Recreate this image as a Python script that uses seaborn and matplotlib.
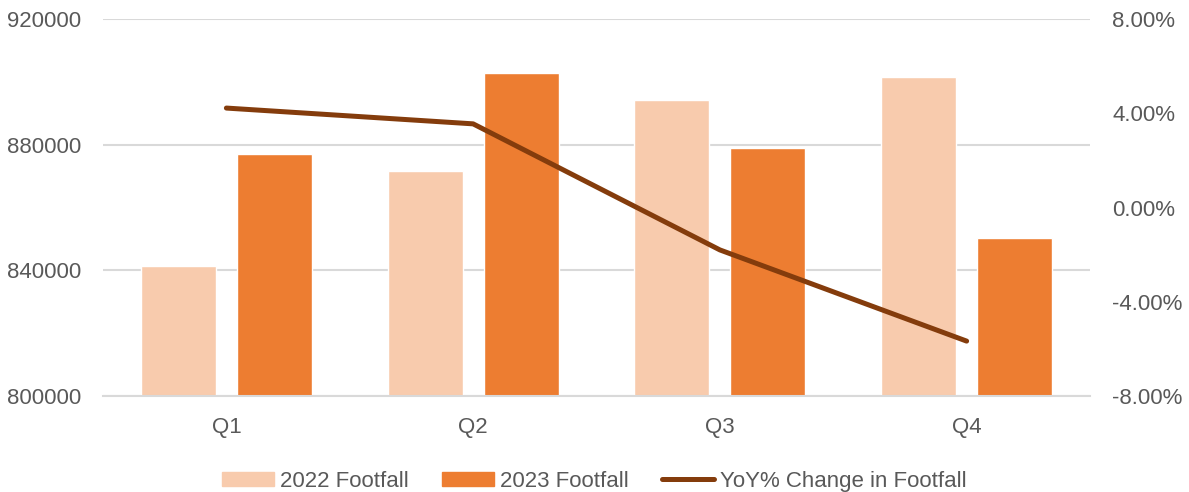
import numpy as np
import pandas as pd
import matplotlib
matplotlib.use("Agg")
import matplotlib.pyplot as plt
import seaborn as sns
from matplotlib.ticker import FuncFormatter

quarters = ["Q1", "Q2", "Q3", "Q4"]
footfall_2022 = [841400, 871600, 894200, 901500]
footfall_2023 = [877000, 902800, 878900, 850300]
yoy_change = [4.22, 3.55, -1.80, -5.67]

df = pd.DataFrame({
    "Quarter": quarters * 2,
    "Footfall": footfall_2022 + footfall_2023,
    "Series": ["2022 Footfall"] * 4 + ["2023 Footfall"] * 4,
})

sns.set_theme(style="white")
plt.rcParams["font.family"] = ["Liberation Sans", "DejaVu Sans"]
text_col = "#595959"
grid_col = "#D9D9D9"
fs = 16

fig, ax = plt.subplots(figsize=(11.89, 4.92), dpi=100)
fig.subplots_adjust(left=103 / 1189, right=1090 / 1189, top=1 - 19 / 492, bottom=1 - 396 / 492)

# bars for both years, grouped per quarter
sns.barplot(data=df, x="Quarter", y="Footfall", hue="Series",
            palette=["#F8CBAD", "#ED7D31"], width=0.778, gap=0.22,
            ax=ax, legend=False, saturation=1)
ax.set_ylim(800000, 920000)
ax.set_yticks([800000, 840000, 880000, 920000])
ax.set_xlim(-0.5, 3.5)
ax.set_xlabel("")
ax.set_ylabel("")
ax.yaxis.grid(True, color=grid_col, linewidth=1.5)
ax.set_axisbelow(True)
for s in ["top", "left", "right"]:
    ax.spines[s].set_visible(False)
ax.spines["bottom"].set_color(grid_col)
ax.spines["bottom"].set_linewidth(1.5)
ax.tick_params(axis="x", length=0, pad=15, labelsize=fs, labelcolor=text_col)
ax.tick_params(axis="y", length=0, pad=16, labelsize=fs, labelcolor=text_col)

# YoY change on secondary axis
ax2 = ax.twinx()
sns.lineplot(x=np.arange(len(quarters)), y=yoy_change, ax=ax2,
             color="#843C0C", linewidth=3.6, solid_capstyle="round")
ax2.set_ylim(-8, 8)
ax2.set_yticks([-8, -4, 0, 4, 8])
ax2.yaxis.set_major_formatter(FuncFormatter(lambda v, p: f"{v:.2f}%"))
ax2.tick_params(axis="y", length=0, pad=16, labelsize=fs, labelcolor=text_col)
for s in ["top", "left", "right", "bottom"]:
    ax2.spines[s].set_visible(False)
ax2.set_ylabel("")

handles = [
    plt.Rectangle((0, 0), 1, 1, color="#F8CBAD"),
    plt.Rectangle((0, 0), 1, 1, color="#ED7D31"),
    plt.Line2D([0], [0], color="#843C0C", linewidth=3.6, solid_capstyle="round"),
]
labels = ["2022 Footfall", "2023 Footfall", "YoY% Change in Footfall"]
leg = fig.legend(handles, labels, loc="center", bbox_to_anchor=(0.5, 0.022),
                 ncol=3, frameon=False, fontsize=fs, handlelength=2.34,
                 handleheight=0.58, handletextpad=0.27, columnspacing=1.5)
for t in leg.get_texts():
    t.set_color(text_col)

fig.savefig("out.png", dpi=100)
